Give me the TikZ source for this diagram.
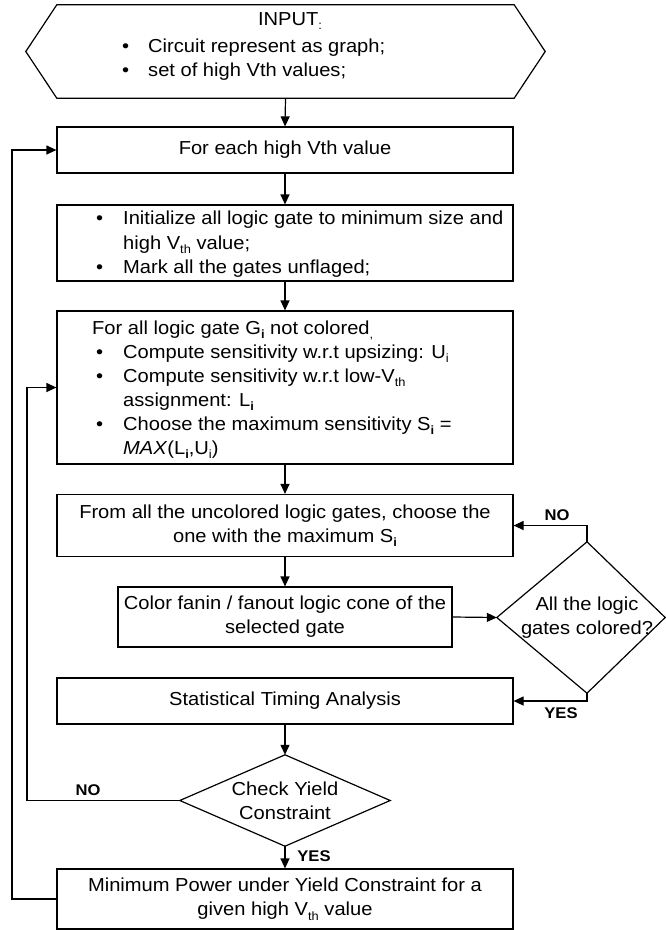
\documentclass[tikz,border=0pt]{standalone}
\usepackage{fontspec}
\setmainfont{Liberation Sans}[FakeStretch=1.07]
\usetikzlibrary{arrows.meta}
\newcommand{\lo}[1]{\raisebox{-0.45ex}{\fontsize{12}{12}\selectfont #1}}
\begin{document}
\begin{tikzpicture}[x=1pt,y=-1pt,
  every node/.style={font=\fontsize{18.8}{24}\selectfont, inner sep=0pt},
  box/.style={draw, line width=1.2pt, minimum width=456pt, align=center},
  ghost/.style={draw=none},
  edge/.style={line width=1.2pt},
  arr/.style={line width=1.2pt, -{Triangle[length=10pt,width=9pt]}},
  lbl/.style={font=\fontsize{15.5}{16}\selectfont\bfseries},
  txt/.style={anchor=base west},
  bul/.style={anchor=base west}]
\useasboundingbox (0,0) rectangle (665,930);

% input hexagon
\node[ghost, minimum width=457pt, minimum height=93pt] (input) at (285.5,51.5) {};
\draw[edge] (input.north west) -- (input.north east) -- ([xshift=31pt]input.east)
  -- (input.south east) -- (input.south west) -- ([xshift=-31pt]input.west) -- cycle;
\node[anchor=base] (inT) at (290,25) {INPUT\lo{:}};
\node[bul] (inB1) at (122,52) {•};
\node[txt] (inL1) at (148,52) {Circuit represent as graph;};
\node[bul] (inB2) at (122,76) {•};
\node[txt] (inL2) at (148,76) {set of high Vth values;};

% boxes
\node[box, minimum height=46pt] (b1) at (285,150) {For each high Vth value};
\node[box, minimum height=76pt] (b2) at (285,243) {};
\node[bul] (b2B1) at (96,224) {•};
\node[txt] (b2L1) at (123,224) {Initialize all logic gate to minimum size and};
\node[txt] (b2L2) at (123,249) {high V\lo{th} value;};
\node[bul] (b2B2) at (96,273) {•};
\node[txt] (b2L3) at (123,273) {Mark all the gates unflaged;};

\node[box, minimum height=153pt] (b3) at (285,387.5) {};
\node[txt] (b3L0) at (92,334) {For all logic gate G\lo{\bfseries i} not colored\lo{,}};
\node[bul] (b3B1) at (96,358) {•};
\node[txt] (b3L1) at (123,358) {Compute sensitivity w.r.t upsizing: U\lo{i}};
\node[bul] (b3B2) at (96,382) {•};
\node[txt] (b3L2) at (123,382) {Compute sensitivity w.r.t low-V\lo{th}};
\node[txt] (b3L3) at (123,406) {assignment: L\lo{\bfseries i}};
\node[bul] (b3B3) at (96,430) {•};
\node[txt] (b3L4) at (123,430) {Choose the maximum sensitivity S\lo{\bfseries i} =};
\node[txt] (b3L5) at (123,454) {\textit{MAX}(L\lo{\bfseries i},U\lo{i})};

\node[box, minimum height=62pt] (b4) at (285,525.5) {From all the uncolored logic gates, choose the\\one with the maximum S\lo{\bfseries i}};
\node[box, minimum width=334pt, minimum height=60pt] (b5) at (285,617) {Color fanin / fanout logic cone of the\\selected gate};
\node[box, minimum height=46pt] (stat) at (285,701) {Statistical Timing Analysis};
\node[box, minimum height=60pt] (fin) at (285,899) {Minimum Power under Yield Constraint for a\\given high V\lo{th} value};

% decisions
\node[ghost, minimum width=180pt, minimum height=151pt, align=center] (dcol) at (587,617.5) {All the logic\\gates colored?};
\draw[edge] (dcol.west) -- (dcol.north) -- ([xshift=-12pt]dcol.east) -- (dcol.south) -- cycle;
\node[ghost, minimum width=210pt, minimum height=91pt, align=center] (chk) at (285,800.5) {Check Yield\\Constraint};
\draw[edge] (chk.west) -- (chk.north) -- (chk.east) -- (chk.south) -- cycle;

% connectors
\draw[arr] (input.south) -- (b1.north);
\draw[arr] (b1.south) -- (b2.north);
\draw[arr] (b2.south) -- (b3.north);
\draw[arr] (b3.south) -- (b4.north);
\draw[arr] (b4.south) -- (b5.north);
\draw[arr] (b5.east) -- (dcol.west);
\draw[arr] (dcol.north) |- (b4.east);
\draw[arr] (dcol.south) |- (stat.east);
\draw[arr] (stat.south) -- (chk.north);
\draw[arr] (chk.south) -- (fin.north);
\coordinate (iloop) at (27,0);
\coordinate (oloop) at (12,0);
\draw[arr] (chk.west) -- (chk.west -| iloop) |- (b3.west);
\draw[arr] (fin.west) -- (fin.west -| oloop) |- (b1.west);

% labels
\node[lbl] (noA) at (557,515) {NO};
\node[lbl] (yesA) at (561,713) {YES};
\node[lbl] (noB) at (88,790) {NO};
\node[lbl] (yesB) at (314,856) {YES};
\end{tikzpicture}
\end{document}
